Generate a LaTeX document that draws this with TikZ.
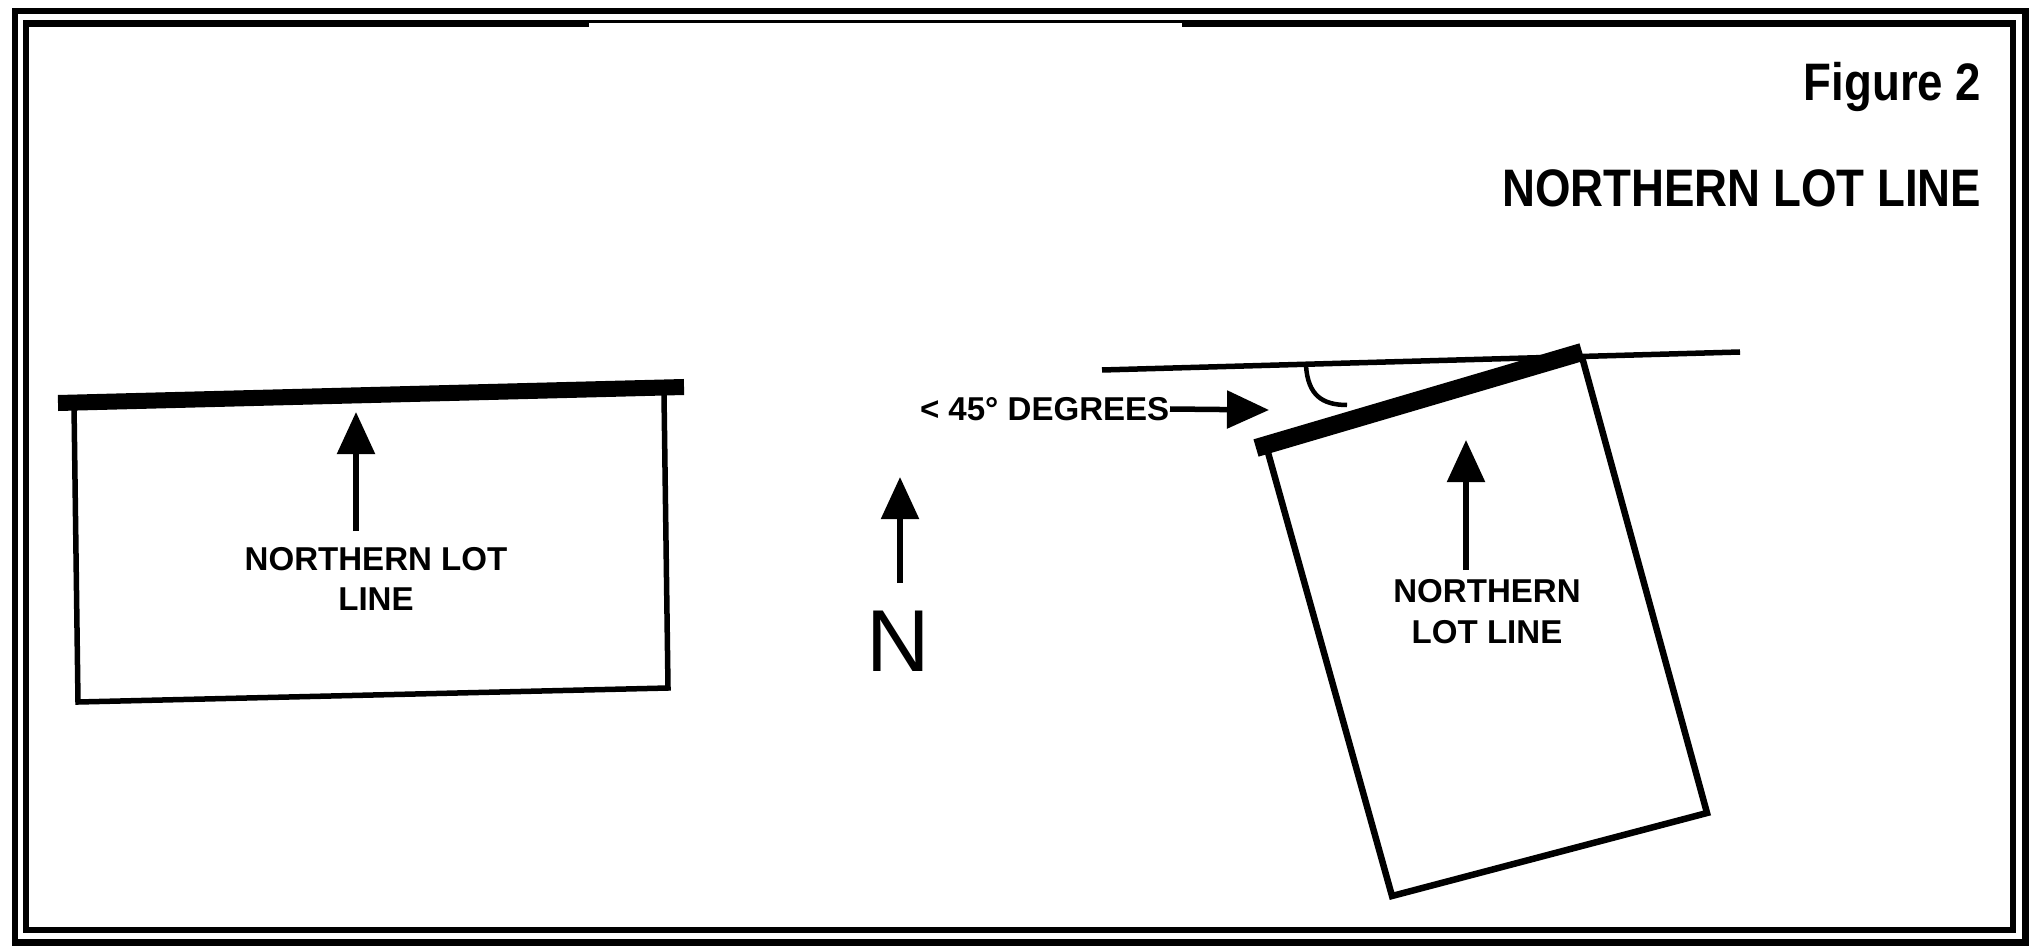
\documentclass[tikz,border=0pt]{standalone}
\usepackage{fontspec}
\setmainfont{Liberation Sans}
\newfontfamily\headfont[FakeStretch=0.865]{Liberation Sans}
\usetikzlibrary{arrows.meta}

\begin{document}
\begin{tikzpicture}[
    x=0.01cm, y=-0.01cm,
    every node/.style={inner sep=0pt, font=\bfseries\fontsize{9.4}{11.6}\selectfont},
    frame/.style={line width=0.065cm},
    lot/.style={line width=0.055cm, line join=miter},
    lotline/.style={line width=0.16cm},
    arrow/.style={-{Triangle[length=0.42cm, width=0.37cm]}, line width=0.055cm},
    label/.style={align=center},
    heading/.style={anchor=base east, font=\headfont\bfseries\fontsize{15}{18}\selectfont}
]
\useasboundingbox (0,0) rectangle (2031,946);
\draw[frame] (15,11) rectangle (2025.5,942.5);
\draw[frame] (589,23.5) -| (26,930) -| (2013,23.5) -- (1182,23.5);
\draw[line width=0.035cm] (589,21.5) -- (1182,21.5);

\node[heading] (fig) at (1982,101) {Figure 2};
\node[heading] (title) at (1982,207) {NORTHERN LOT LINE};

\draw[lot] (74,405) -- (78,702) -- (668,688) -- (664,395);
\draw[lotline] (58,403) -- (684,387);
\coordinate (leftTail) at (356,531);
\coordinate (leftTip) at (356,412);
\draw[arrow] (leftTail) -- (leftTip);
\node[label] (leftLbl) at (376,579) {NORTHERN LOT\\LINE};

\coordinate (northTail) at (900,583);
\coordinate (northTip) at (900,477);
\draw[arrow] (northTail) -- (northTip);
\node[font=\fontsize{25}{30}\selectfont] (north) at (898,641) {N};

\node[anchor=east] (deg) at (1170,409) {< 45° DEGREES};
\coordinate (degTip) at (1269,410);
\draw[arrow] (deg.east) -- (degTip);

\draw[line width=0.055cm] (1102,370) -- (1740,352);
\draw[lot, line width=0.065cm] (1267,449) -- (1392,896) -- (1707,813) -- (1582,357);
\draw[lotline, line width=0.18cm] (1256,448) -- (1582,352);
\draw[line width=0.045cm] (1306,366) .. controls (1308,395) and (1322,405) .. (1347,405);
\coordinate (rightTail) at (1466,570);
\coordinate (rightTip) at (1466,440);
\draw[arrow] (rightTail) -- (rightTip);
\node[label] (rightLbl) at (1487,612) {NORTHERN\\LOT LINE};
\end{tikzpicture}
\end{document}
